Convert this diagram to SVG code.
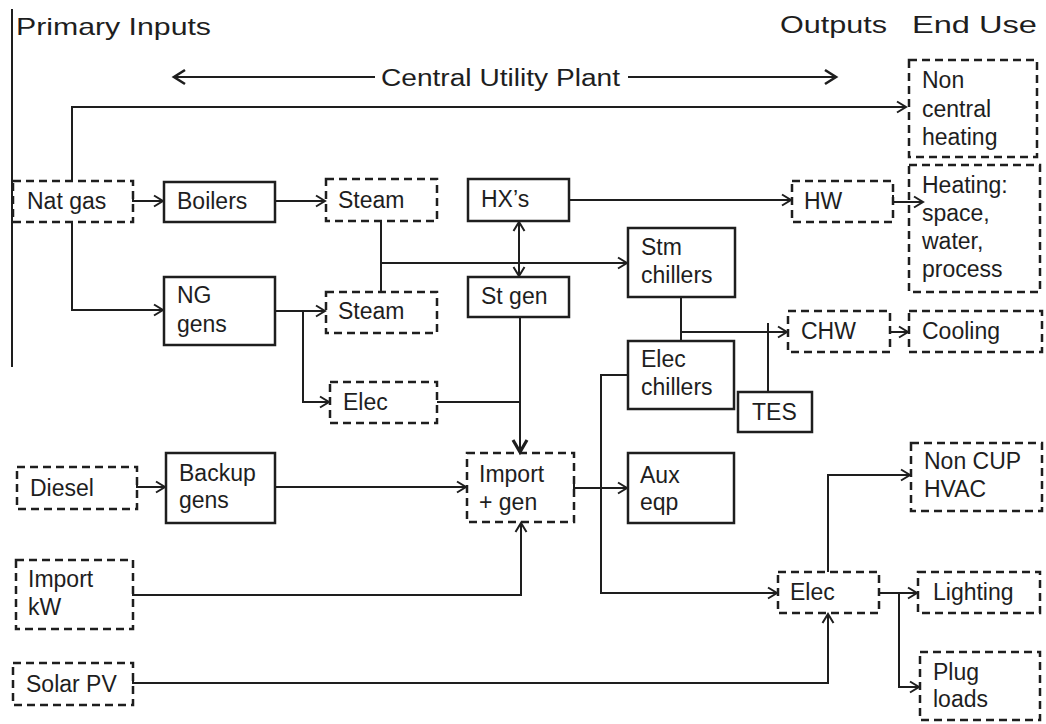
<svg xmlns="http://www.w3.org/2000/svg" width="1046" height="724" viewBox="0 0 1046 724">
<style>
text{font-family:"Liberation Sans",Arial,sans-serif;font-size:23px;fill:#1e1e1e}
.hd{font-size:24px}
.b{fill:none;stroke:#1e1e1e;stroke-width:2.5}
.d{fill:none;stroke:#1e1e1e;stroke-width:2.5;stroke-dasharray:8 5}
.c{fill:none;stroke:#1e1e1e;stroke-width:2}
</style>
<defs>
<marker id="a" markerUnits="userSpaceOnUse" markerWidth="14" markerHeight="14" refX="11" refY="7" orient="auto-start-reverse"><path d="M2,1.5 L11,7 L2,12.5" fill="none" stroke="#1e1e1e" stroke-width="2"/></marker>
<marker id="ab" markerUnits="userSpaceOnUse" markerWidth="18" markerHeight="18" refX="14" refY="9" orient="auto"><path d="M2,2 L14,9 L2,16" fill="none" stroke="#1e1e1e" stroke-width="3.2"/></marker>
<marker id="ah" markerUnits="userSpaceOnUse" markerWidth="18" markerHeight="18" refX="14" refY="9" orient="auto-start-reverse"><path d="M3,2 L14,9 L3,16" fill="none" stroke="#1e1e1e" stroke-width="2.6"/></marker>
</defs>
<rect width="1046" height="724" fill="#fff"/>
<line x1="12" y1="9" x2="12" y2="367" stroke="#1e1e1e" stroke-width="2"/>
<text class="hd" x="16" y="35" textLength="195" lengthAdjust="spacingAndGlyphs">Primary Inputs</text>
<text class="hd" x="780" y="33" textLength="107" lengthAdjust="spacingAndGlyphs">Outputs</text>
<text class="hd" x="912" y="33" textLength="125" lengthAdjust="spacingAndGlyphs">End Use</text>
<text x="381" y="86" font-size="22" textLength="239" lengthAdjust="spacingAndGlyphs">Central Utility Plant</text>
<g id="connectors">
<path class="c" d="M375,77 H174" stroke-width="2.5" marker-end="url(#ah)"/>
<path class="c" d="M628,77 H836" stroke-width="2.5" marker-end="url(#ah)"/>
<path class="c" d="M72,181 V107 H906" marker-end="url(#a)"/>
<path class="c" d="M133,194 V201 H163" marker-end="url(#a)"/>
<path class="c" d="M275,201 H325" marker-end="url(#a)"/>
<path class="c" d="M72,222 V310 H163" marker-end="url(#a)"/>
<path class="c" d="M381,221 V292"/>
<path class="c" d="M381,263 H627" marker-end="url(#a)"/>
<path class="c" d="M519,222 V276" marker-start="url(#a)" marker-end="url(#a)"/>
<path class="c" d="M569,200 H791" marker-end="url(#a)"/>
<path class="c" d="M893,195 V202 H923" marker-end="url(#a)"/>
<path class="c" d="M275,311 H325" marker-end="url(#a)"/>
<path class="c" d="M303,311 V402 H329" marker-end="url(#a)"/>
<path class="c" d="M437,402 H520"/>
<path class="c" d="M520,317 V402"/>
<path class="c" d="M520,402 V452" stroke-width="3.2" marker-end="url(#ab)"/>
<path class="c" d="M681,297 V341"/>
<path class="c" d="M681,332 H787" marker-end="url(#a)"/>
<path class="c" d="M768,323 V392"/>
<path class="c" d="M890,326 V332 H908" marker-end="url(#a)"/>
<path class="c" d="M137,480 V487 H165" marker-end="url(#a)"/>
<path class="c" d="M275,487 H466" marker-end="url(#a)"/>
<path class="c" d="M574,484 V488 H627" marker-end="url(#a)"/>
<path class="c" d="M627,375 H601 V593 H777" marker-end="url(#a)"/>
<path class="c" d="M133,590 V595 H521 V523" marker-end="url(#a)"/>
<path class="c" d="M133,678 V683 H828 V614" marker-end="url(#a)"/>
<path class="c" d="M828,572 V475 H910" marker-end="url(#a)"/>
<path class="c" d="M879,588 V593 H917" marker-end="url(#a)"/>
<path class="c" d="M899,593 V687 H919" marker-end="url(#a)"/>
</g>
<g id="natgas"><rect class="d" x="13" y="181" width="120" height="41"/><text x="27" y="209">Nat gas</text></g>
<g id="boilers"><rect class="b" x="164" y="182" width="111" height="40"/><text x="177" y="209">Boilers</text></g>
<g id="steam1"><rect class="d" x="326" y="179" width="111" height="42"/><text x="338" y="208">Steam</text></g>
<g id="hxs"><rect class="b" x="468" y="179" width="101" height="42"/><text x="481" y="207">HX’s</text></g>
<g id="hw"><rect class="d" x="792" y="181" width="101" height="41"/><text x="804" y="209">HW</text></g>
<g id="noncentral"><rect class="d" x="909" y="60" width="128" height="97"/><text x="922" y="88">Non</text><text x="922" y="117">central</text><text x="922" y="145">heating</text></g>
<g id="heating"><rect class="d" x="909" y="165" width="131" height="127"/><text x="922" y="193">Heating:</text><text x="922" y="221">space,</text><text x="922" y="249">water,</text><text x="922" y="277">process</text></g>
<g id="ngGens"><rect class="b" x="164" y="277" width="111" height="68"/><text x="177" y="303">NG</text><text x="177" y="332">gens</text></g>
<g id="steam2"><rect class="d" x="326" y="292" width="111" height="41"/><text x="338" y="319">Steam</text></g>
<g id="stgen"><rect class="b" x="468" y="277" width="101" height="40"/><text x="481" y="304">St gen</text></g>
<g id="stmchillers"><rect class="b" x="628" y="228" width="107" height="69"/><text x="641" y="255">Stm</text><text x="641" y="283">chillers</text></g>
<g id="chw"><rect class="d" x="788" y="311" width="102" height="41"/><text x="801" y="339">CHW</text></g>
<g id="cooling"><rect class="d" x="909" y="311" width="133" height="41"/><text x="922" y="339">Cooling</text></g>
<g id="elecchillers"><rect class="b" x="628" y="341" width="106" height="68"/><text x="641" y="367">Elec</text><text x="641" y="395">chillers</text></g>
<g id="tes"><rect class="b" x="738" y="392" width="74" height="40"/><text x="752" y="420">TES</text></g>
<g id="elec1"><rect class="d" x="330" y="382" width="107" height="41"/><text x="343" y="410">Elec</text></g>
<g id="diesel"><rect class="d" x="17" y="467" width="120" height="42"/><text x="30" y="496">Diesel</text></g>
<g id="backup"><rect class="b" x="166" y="453" width="109" height="70"/><text x="179" y="481">Backup</text><text x="179" y="508">gens</text></g>
<g id="importgen"><rect class="d" x="467" y="453" width="107" height="69"/><text x="479" y="482">Import</text><text x="479" y="510">+ gen</text></g>
<g id="aux"><rect class="b" x="628" y="453" width="106" height="70"/><text x="640" y="483">Aux</text><text x="640" y="510">eqp</text></g>
<g id="noncup"><rect class="d" x="911" y="443" width="131" height="68"/><text x="924" y="469">Non CUP</text><text x="924" y="497">HVAC</text></g>
<g id="importkw"><rect class="d" x="16" y="560" width="117" height="69"/><text x="28" y="587">Import</text><text x="28" y="615">kW</text></g>
<g id="elec2"><rect class="d" x="778" y="572" width="101" height="41"/><text x="790" y="600">Elec</text></g>
<g id="lighting"><rect class="d" x="918" y="572" width="122" height="41"/><text x="933" y="600">Lighting</text></g>
<g id="plug"><rect class="d" x="920" y="652" width="120" height="68"/><text x="933" y="680">Plug</text><text x="933" y="707">loads</text></g>
<g id="solar"><rect class="d" x="13" y="663" width="120" height="42"/><text x="26" y="692">Solar PV</text></g>
</svg>
